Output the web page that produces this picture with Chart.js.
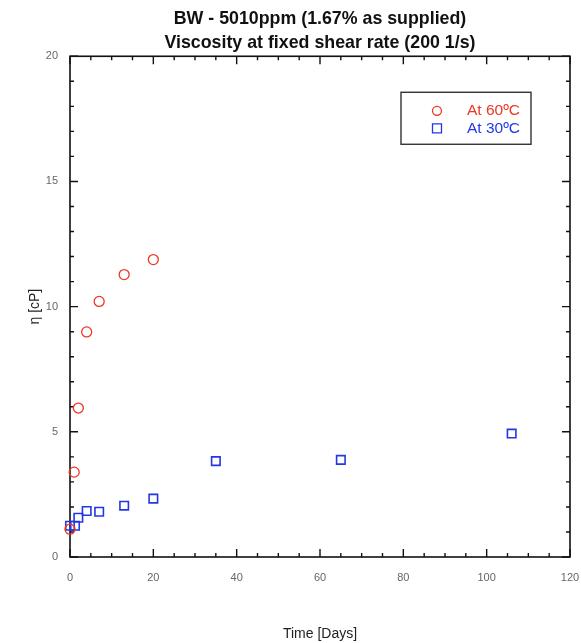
<!DOCTYPE html>
<html>
<head>
<meta charset="utf-8">
<script src="https://cdn.jsdelivr.net/npm/chart.js@4"></script>
<style>
html,body{margin:0;padding:0;background:#fff;}
#wrap{width:581px;height:643px;}
</style>
</head>
<body>
<div id="wrap"><canvas id="c" width="581" height="643"></canvas></div>
<script>
const titleLines = ["BW - 5010ppm (1.67% as supplied)", "Viscosity at fixed shear rate (200 1/s)"];
const xTitle = "Time [Days]";
const yTitle = "η [cP]";
const labels60 = "At 60ºC";
const labels30 = "At 30ºC";
const days60 = [0, 1, 2, 4, 7, 13, 20];
const visc60 = [1.11, 3.39, 5.95, 8.99, 10.21, 11.28, 11.88];
const days30 = [0, 1.2, 2, 4, 7, 13, 20, 35, 65, 106];
const visc30 = [1.25, 1.25, 1.57, 1.84, 1.81, 2.05, 2.33, 3.83, 3.88, 4.93];
const xMin = 0, xMax = 120, xStep = 20, xMinor = 5;
const yMin = 0, yMax = 20, yStep = 5, yMinor = 1;

const RED = "rgb(235,55,35)";
const BLUE = "rgb(35,55,230)";

const toPts = (xs, ys) => xs.map((x, i) => ({x: x, y: ys[i]}));

const framePlugin = {
  id: "frame",
  beforeDatasetsDraw(chart) {
    const ctx = chart.ctx, a = chart.chartArea, sx = chart.scales.x, sy = chart.scales.y;
    ctx.save();
    ctx.strokeStyle = "#111";
    ctx.lineWidth = 1.6;
    ctx.strokeRect(a.left, a.top, a.right - a.left, a.bottom - a.top);
    ctx.lineWidth = 1.4;
    ctx.beginPath();
    for (let v = xMin; v <= xMax + 1e-9; v += xMinor) {
      const px = sx.getPixelForValue(v);
      const len = (v % xStep === 0) ? 8 : 4;
      ctx.moveTo(px, a.bottom); ctx.lineTo(px, a.bottom - len);
      ctx.moveTo(px, a.top); ctx.lineTo(px, a.top + len);
    }
    for (let v = yMin; v <= yMax + 1e-9; v += yMinor) {
      const py = sy.getPixelForValue(v);
      const len = (v % yStep === 0) ? 8 : 4;
      ctx.moveTo(a.left, py); ctx.lineTo(a.left + len, py);
      ctx.moveTo(a.right, py); ctx.lineTo(a.right - len, py);
    }
    ctx.stroke();
    ctx.restore();
  },
  afterDatasetsDraw(chart) {
    const ctx = chart.ctx, a = chart.chartArea;
    ctx.save();
    // legend box
    const bx = a.right - 169, by = a.top + 36, bw = 130, bh = 52;
    ctx.fillStyle = "#fff";
    ctx.fillRect(bx, by, bw, bh);
    ctx.strokeStyle = "#333";
    ctx.lineWidth = 1.4;
    ctx.strokeRect(bx, by, bw, bh);
    ctx.font = "15.5px 'Liberation Sans', Arial, sans-serif";
    ctx.textAlign = "right";
    ctx.textBaseline = "middle";
    chart.data.datasets.forEach((ds, i) => {
      const ry = by + 18.5 + i * 17.5;
      const mx = bx + 36;
      ctx.strokeStyle = ds.borderColor;
      ctx.lineWidth = 1.3;
      ctx.beginPath();
      if (ds.pointStyle === "rect") {
        ctx.rect(mx - 4.5, ry - 4.5, 9, 9);
      } else {
        ctx.arc(mx, ry, 4.5, 0, Math.PI * 2);
      }
      ctx.stroke();
      ctx.fillStyle = ds.borderColor;
      ctx.fillText(ds.label, bx + 119, ry);
    });
    ctx.restore();
  }
};

new Chart(document.getElementById("c"), {
  type: "scatter",
  data: {
    datasets: [
      {label: labels60, data: toPts(days60, visc60), pointStyle: "circle", pointRadius: 5,
       borderColor: RED, backgroundColor: "rgba(0,0,0,0)", borderWidth: 1.3, showLine: false, clip: false},
      {label: labels30, data: toPts(days30, visc30), pointStyle: "rect", pointRadius: 6,
       borderColor: BLUE, backgroundColor: "rgba(0,0,0,0)", borderWidth: 1.6, showLine: false, clip: false}
    ]
  },
  options: {
    responsive: false,
    animation: false,
    devicePixelRatio: 1,
    layout: {padding: {left: 0, right: 11, top: 0, bottom: 0}},
    plugins: {
      legend: {display: false},
      tooltip: {enabled: false},
      title: {
        display: true,
        text: titleLines,
        fullSize: false,
        color: "#111",
        font: {family: "'Liberation Sans', Arial, sans-serif", size: 17.8, weight: "bold", lineHeight: 1.3},
        padding: {top: 8, bottom: 2}
      }
    },
    scales: {
      x: {
        type: "linear", min: xMin, max: xMax,
        ticks: {stepSize: xStep, color: "#666", padding: 14,
                font: {family: "'Liberation Sans', Arial, sans-serif", size: 11}},
        grid: {display: false, drawTicks: false},
        border: {display: false},
        title: {display: true, text: xTitle, color: "#222",
                font: {family: "'Liberation Sans', Arial, sans-serif", size: 14},
                padding: {top: 0, bottom: 0}},
        afterFit(s) { s.height = 86; s.paddingLeft = 0; s.paddingRight = 0; }
      },
      y: {
        type: "linear", min: yMin, max: yMax,
        ticks: {stepSize: yStep, color: "#666", padding: 12,
                font: {family: "'Liberation Sans', Arial, sans-serif", size: 11}},
        grid: {display: false, drawTicks: false},
        border: {display: false},
        title: {display: true, text: yTitle, color: "#222",
                font: {family: "'Liberation Sans', Arial, sans-serif", size: 14},
                padding: {top: 27, bottom: 0}},
        afterFit(s) { s.width = 70; s.paddingTop = 0; s.paddingBottom = 0; }
      }
    }
  },
  plugins: [framePlugin]
});
</script>
</body>
</html>
